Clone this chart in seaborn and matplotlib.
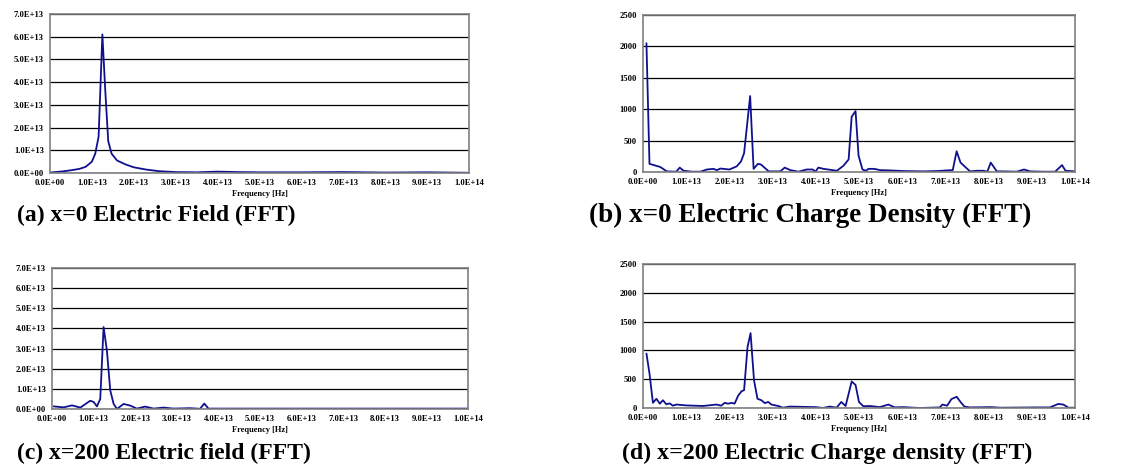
import matplotlib
matplotlib.use("Agg")
import matplotlib.pyplot as plt
import seaborn as sns
import numpy as np
from matplotlib.ticker import FuncFormatter, MultipleLocator

# frequencies in units of 1e13 Hz
freq_a = [0.0, 0.3, 0.5, 0.7, 0.85, 1.0, 1.08, 1.16, 1.25, 1.32, 1.39, 1.47, 1.6, 1.8,
          2.0, 2.3, 2.6, 3.0, 3.5, 4.0, 4.5, 5.0, 6.0, 7.0, 8.0, 9.0, 10.0]
field_a = [0.02, 0.07, 0.12, 0.18, 0.27, 0.5, 0.85, 1.6, 6.1, 3.6, 1.4, 0.85, 0.55, 0.38,
           0.25, 0.15, 0.08, 0.04, 0.03, 0.06, 0.04, 0.03, 0.03, 0.04, 0.02, 0.03, 0.01]

freq_b = [0.08, 0.15, 0.40, 0.55, 0.77, 0.85, 0.94, 1.13, 1.33, 1.48, 1.63, 1.71, 1.79,
          2.0, 2.17, 2.27, 2.34, 2.48, 2.56, 2.66, 2.73, 2.91, 3.18, 3.28, 3.41, 3.6,
          3.79, 3.93, 3.99, 4.06, 4.18, 4.49, 4.64, 4.76, 4.83, 4.92, 4.99, 5.08, 5.16,
          5.22, 5.35, 5.49, 5.72, 6.03, 6.49, 6.8, 7.03, 7.17, 7.26, 7.35, 7.57, 7.73,
          7.88, 7.97, 8.05, 8.19, 8.34, 8.65, 8.82, 8.96, 9.27, 9.54, 9.7, 9.78, 10.0]
charge_b = [2050, 130, 80, 10, 5, 70, 20, 5, 5, 40, 50, 30, 55,
            40, 90, 170, 300, 1210, 50, 130, 120, 10, 10, 70, 30, 5,
            40, 40, 5, 70, 50, 20, 100, 200, 880, 970, 260, 40, 20,
            50, 50, 30, 25, 15, 10, 15, 25, 30, 330, 150, 10, 20,
            20, 5, 150, 10, 10, 5, 40, 10, 5, 5, 110, 20, 10]

freq_c = [0.04, 0.28, 0.48, 0.68, 0.92, 1.0, 1.08, 1.16, 1.24, 1.32, 1.4, 1.48, 1.56,
          1.72, 1.88, 2.04, 2.24, 2.44, 2.68, 2.92, 3.32, 3.56, 3.66, 3.76, 4.5, 6.0,
          8.0, 10.0]
field_c = [0.13, 0.08, 0.18, 0.07, 0.41, 0.35, 0.13, 0.5, 4.07, 2.9, 0.93, 0.26, 0.0,
           0.25, 0.17, 0.02, 0.12, 0.02, 0.07, 0.02, 0.04, 0.01, 0.27, 0.02, 0.02, 0.02,
           0.02, 0.02]

freq_d = [0.08, 0.15, 0.23, 0.31, 0.39, 0.46, 0.54, 0.62, 0.69, 0.77, 1.0, 1.39, 1.70,
          1.81, 1.89, 1.97, 2.05, 2.12, 2.2, 2.28, 2.34, 2.42, 2.49, 2.57, 2.65, 2.74,
          2.82, 2.9, 2.97, 3.13, 3.24, 3.4, 4.0, 4.17, 4.32, 4.48, 4.59, 4.69, 4.83,
          4.92, 5.0, 5.1, 5.25, 5.48, 5.68, 5.83, 6.02, 6.41, 6.87, 6.93, 7.04, 7.14,
          7.26, 7.35, 7.44, 7.57, 8.07, 8.26, 9.11, 9.42, 9.61, 9.73, 9.85, 10.0]
charge_d = [945, 600, 90, 160, 75, 135, 65, 80, 40, 60, 45, 35, 60,
            40, 90, 75, 90, 75, 210, 290, 310, 1060, 1300, 480, 160, 135,
            85, 105, 60, 35, 5, 25, 15, 0, 25, 5, 105, 35, 460,
            400, 105, 30, 35, 15, 60, 10, 15, 0, 10, 60, 40, 155,
            195, 105, 25, 10, 15, 5, 10, 10, 70, 60, 5, 5]

captions = ["(a) x=0 Electric Field (FFT)",
            "(b) x=0 Electric Charge Density (FFT)",
            "(c) x=200 Electric field (FFT)",
            "(d) x=200 Electric Charge density (FFT)"]

sns.set_style("white")
plt.rcParams["font.family"] = ["Liberation Serif", "DejaVu Serif"]
plt.rcParams["text.color"] = "black"
plt.rcParams["axes.labelcolor"] = "black"
plt.rcParams["xtick.color"] = "black"
plt.rcParams["ytick.color"] = "black"

W, H = 1138, 466
fig = plt.figure(figsize=(W / 100, H / 100), dpi=100)

# (left, top, right, bottom) in pixels
boxes = [(50, 14, 469, 173), (643, 15, 1075, 172),
         (52, 268, 468, 409), (643, 264, 1075, 408)]
series = [(freq_a, field_a), (freq_b, charge_b), (freq_c, field_c), (freq_d, charge_d)]
cap_pos = [(17, 215), (589, 215), (17, 453), (622, 453)]
cap_size = [17, 19.5, 17, 17.2]

sci = FuncFormatter(lambda v, p: "{:.1E}".format(v))
intf = FuncFormatter(lambda v, p: "{:d}".format(int(round(v))))

for i, ((l, t, r, b), (fx, fy)) in enumerate(zip(boxes, series)):
    ax = fig.add_axes([l / W, 1 - b / H, (r - l) / W, (b - t) / H])
    xs = np.array(fx) * 1e13
    if i in (0, 2):
        ys = np.array(fy) * 1e13
    else:
        ys = np.array(fy, dtype=float)
    sns.lineplot(x=xs, y=ys, ax=ax, color="#10108f", lw=1.3, sort=False)
    ax.set_xlim(0, 1e14)
    ax.xaxis.set_major_locator(MultipleLocator(1e13))
    ax.xaxis.set_major_formatter(sci)
    if i in (0, 2):
        ax.set_ylim(0, 7e13)
        ax.yaxis.set_major_locator(MultipleLocator(1e13))
        ax.yaxis.set_major_formatter(sci)
    else:
        ax.set_ylim(0, 2500)
        ax.yaxis.set_major_locator(MultipleLocator(500))
        ax.yaxis.set_major_formatter(intf)
    ax.grid(axis="y", color="black", lw=0.9)
    ax.set_axisbelow(True)
    for s in ax.spines.values():
        s.set_color("#7f7f7f")
        s.set_linewidth(1.2)
    ax.tick_params(axis="both", labelsize=6.2, length=2.5, width=0.8,
                   direction="out", color="#555555", labelcolor="black", pad=2)
    for lab in ax.get_xticklabels() + ax.get_yticklabels():
        lab.set_fontweight("bold")
    ax.set_xlabel("Frequency [Hz]", fontsize=6, fontweight="bold", labelpad=2)
    ax.set_ylabel("")

    cx, cy = cap_pos[i]
    fig.text(cx / W, 1 - cy / H, captions[i], fontsize=cap_size[i], fontweight="bold",
             ha="left", va="center", color="black")

fig.savefig("out.png", dpi=100)
